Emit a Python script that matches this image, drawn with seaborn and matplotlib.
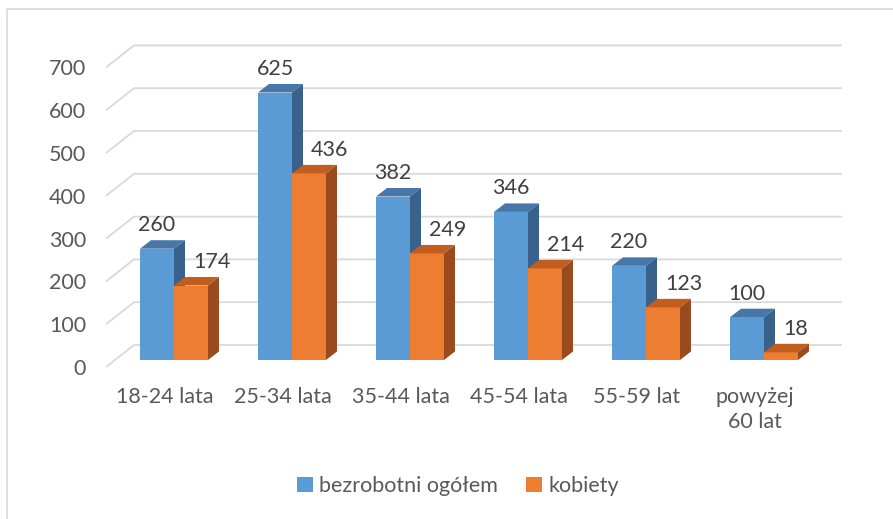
import pandas as pd
import seaborn as sns
import matplotlib
import matplotlib.pyplot as plt
from matplotlib.patches import Polygon, Rectangle

matplotlib.use("Agg")

# Data
GRUPY = ["18-24 lata", "25-34 lata", "35-44 lata", "45-54 lata", "55-59 lat", "powyżej\n60 lat"]
OGOLEM = [260, 625, 382, 346, 220, 100]
KOBIETY = [174, 436, 249, 214, 123, 18]
SERIE = ["bezrobotni ogółem", "kobiety"]
Y_TICKS = [0, 100, 200, 300, 400, 500, 600, 700]

# Colours (front, top, side)
FRONT = {"bezrobotni ogółem": "#5B9BD5", "kobiety": "#ED7D31"}
TOP = ["#4777A8", "#C05D1F"]
SIDE = ["#38628B", "#9A4B1D"]
TEXT = "#595959"
LABEL = "#404040"
GRID = "#D9D9D9"

sns.set_style("white")
plt.rcParams["font.family"] = ["Lato", "DejaVu Sans"]
FS = 15.5

df = pd.DataFrame({
    "grupa": GRUPY * 2,
    "liczba": OGOLEM + KOBIETY,
    "seria": [SERIE[0]] * len(GRUPY) + [SERIE[1]] * len(GRUPY),
})

fig = plt.figure(figsize=(8.93, 5.19), dpi=100)
ax = fig.add_axes([0, 0, 1, 1])

sns.barplot(data=df, x="grupa", y="liczba", hue="seria", palette=FRONT,
            width=0.576, gap=0, saturation=1, ax=ax, zorder=3)

# pixel scale: 118 px per category, 0.428 px per unit
PX_X = 118.0
PX_Y = 0.428
ax.set_xlim(-174 / PX_X, (893 - 174) / PX_X)
ax.set_ylim((360 - 519) / PX_Y, 360 / PX_Y)
ax.axis("off")

# 3D offsets
DX, DY = 11 / PX_X, 8.5 / PX_Y          # bar depth
FX, FY = -9 / PX_X, -7 / PX_Y           # front wall
BX, BY = 19 / PX_X, 15 / PX_Y           # back wall

# gridlines (floor/back wall)
n = len(GRUPY)
for v in Y_TICKS:
    ax.plot([-0.5 + FX, -0.5 + BX, n - 0.5 + BX], [v + FY, v + BY, v + BY],
            color=GRID, lw=1.3, zorder=0.5, solid_capstyle="butt")
    ax.text((86 - 174) / PX_X, v + FY, str(v), ha="right", va="center_baseline",
            fontsize=FS, color=TEXT)

# top and side faces
for k, cont in enumerate(ax.containers):
    for bar in cont:
        x0, w, h = bar.get_x(), bar.get_width(), bar.get_height()
        bar.set_edgecolor("none")
        top = Polygon([(x0, h), (x0 + w, h), (x0 + w + DX, h + DY), (x0 + DX, h + DY)],
                      closed=True, facecolor=TOP[k], edgecolor="none", zorder=1.5 + 2 * k)
        side = Polygon([(x0 + w, 0), (x0 + w + DX, DY), (x0 + w + DX, h + DY), (x0 + w, h)],
                       closed=True, facecolor=SIDE[k], edgecolor="none", zorder=1.5 + 2 * k)
        ax.add_patch(top)
        ax.add_patch(side)
        bar.set_zorder(2 + k)
        if k == 0:
            ax.annotate(f"{h:.0f}", (x0 + w / 2, h), xytext=(0, 25.5),
                        textcoords="offset pixels", ha="center", va="center_baseline",
                        fontsize=FS, color=LABEL)
        else:
            ax.annotate(f"{h:.0f}", (x0 + w / 2, h), xytext=(2, 25.5),
                        textcoords="offset pixels", ha="left", va="center_baseline",
                        fontsize=FS, color=LABEL)

# category labels on the front wall
for i, g in enumerate(GRUPY):
    ax.text(i + FX, -64, g, ha="center", va="top", fontsize=FS, color=TEXT,
            linespacing=1.3)

sns.move_legend(ax, "center", bbox_to_anchor=(458 / 893, 1 - 486 / 519), ncol=2,
                title=None, frameon=False, fontsize=FS, handlelength=0.75,
                handleheight=0.75, handletextpad=0.3, columnspacing=1.3)
leg = ax.get_legend()
for t in leg.get_texts():
    t.set_color(TEXT)
for hnd in leg.legend_handles:
    hnd.set_edgecolor("none")
    hnd.set_linewidth(0)

# chart border
fig.patches.append(Rectangle((7 / 893, -0.05), 1.2, 1 - 9 / 519 + 0.05,
                             transform=fig.transFigure, fill=False,
                             edgecolor=GRID, lw=1.2))

fig.savefig("out.png", dpi=100)
plt.close(fig)
